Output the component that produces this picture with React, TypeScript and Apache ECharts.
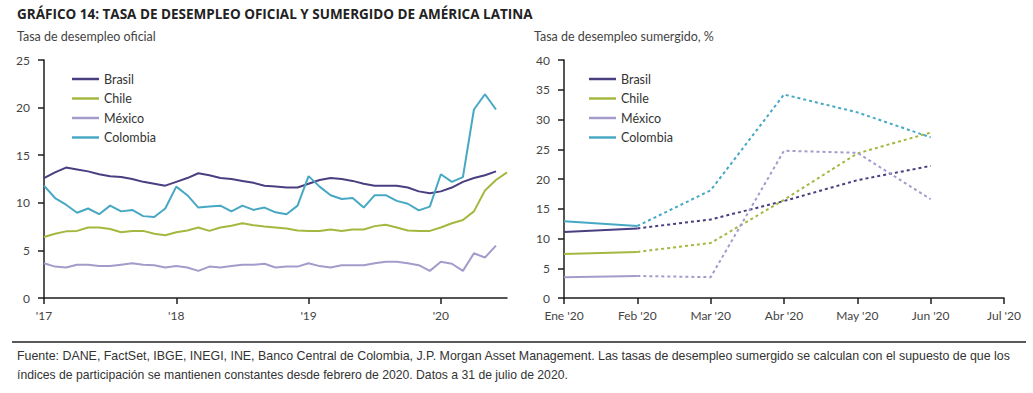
import React, { useEffect, useRef } from "react";
import * as echarts from "echarts";

const monthNames = ["Ene", "Feb", "Mar", "Abr", "May", "Jun", "Jul", "Ago", "Sep", "Oct", "Nov", "Dic"];
const years = ["17", "18", "19", "20"];
const leftCategories: string[] = [];
years.forEach((y) => monthNames.forEach((m) => leftCategories.push(m + " '" + y)));
leftCategories.splice(43); // Ene '17 .. Jul '20

const brasilOficial = [12.6, 13.2, 13.7, 13.5, 13.3, 13.0, 12.8, 12.7, 12.5, 12.2, 12.0, 11.8, 12.2, 12.6, 13.1, 12.9, 12.6, 12.5, 12.3, 12.1, 11.8, 11.7, 11.6, 11.6, 12.0, 12.4, 12.6, 12.5, 12.3, 12.0, 11.8, 11.8, 11.8, 11.6, 11.2, 11.0, 11.2, 11.6, 12.2, 12.6, 12.9, 13.3];
const chileOficial = [6.4, 6.75, 7.0, 7.05, 7.4, 7.4, 7.25, 6.9, 7.05, 7.05, 6.75, 6.6, 6.9, 7.1, 7.4, 7.05, 7.4, 7.6, 7.85, 7.65, 7.5, 7.4, 7.3, 7.1, 7.05, 7.05, 7.2, 7.05, 7.2, 7.2, 7.55, 7.7, 7.4, 7.1, 7.05, 7.05, 7.4, 7.85, 8.2, 9.1, 11.3, 12.4, 13.2];
const mexicoOficial = [3.65, 3.3, 3.2, 3.5, 3.5, 3.35, 3.35, 3.5, 3.65, 3.5, 3.45, 3.2, 3.35, 3.2, 2.85, 3.3, 3.2, 3.35, 3.5, 3.5, 3.6, 3.2, 3.3, 3.3, 3.65, 3.35, 3.2, 3.45, 3.45, 3.45, 3.65, 3.8, 3.8, 3.65, 3.45, 2.85, 3.8, 3.6, 2.85, 4.7, 4.25, 5.5];
const colombiaOficial = [11.8, 10.5, 9.8, 8.95, 9.4, 8.8, 9.7, 9.1, 9.25, 8.6, 8.5, 9.4, 11.7, 10.8, 9.5, 9.6, 9.7, 9.1, 9.7, 9.25, 9.5, 9.0, 8.8, 9.7, 12.8, 11.7, 10.8, 10.4, 10.5, 9.5, 10.8, 10.8, 10.2, 9.9, 9.2, 9.6, 13.0, 12.2, 12.7, 19.8, 21.4, 19.8];

const rightCategories = ["Ene '20", "Feb '20", "Mar '20", "Abr '20", "May '20", "Jun '20", "Jul '20"];
const brasilRight = [11.1, 11.7];
const chileRight = [7.4, 7.75];
const mexicoRight = [3.5, 3.7];
const colombiaRight = [12.9, 12.1];
const brasilSumergido = [null, 11.7, 13.2, 16.3, 19.8, 22.2];
const chileSumergido = [null, 7.75, 9.25, 16.5, 24.3, 27.8];
const mexicoSumergido = [null, 3.7, 3.5, 24.75, 24.4, 16.6];
const colombiaSumergido = [null, 12.1, 18.1, 34.2, 31.2, 27.0];

const names = ["Brasil", "Chile", "México", "Colombia"];
const colors = ["#4b3e80", "#a4b840", "#a39ccb", "#47a8c4"];
const leftYTicks = { min: 0, max: 25, interval: 5 };
const rightYTicks = { min: 0, max: 40, interval: 5 };

const titleText = "GRÁFICO 14: TASA DE DESEMPLEO OFICIAL Y SUMERGIDO DE AMÉRICA LATINA";
const leftSubtitle = "Tasa de desempleo oficial";
const rightSubtitle = "Tasa de desempleo sumergido, %";
const footnote1 = "Fuente: DANE, FactSet, IBGE, INEGI, INE, Banco Central de Colombia, J.P. Morgan Asset Management. Las tasas de desempleo sumergido se calculan con el supuesto de que los";
const footnote2 = "índices de participación se mantienen constantes desde febrero de 2020. Datos a 31 de julio de 2020.";

const FONT = "Lato";
const AXIS_COLOR = "#1e1e1e";
const LABEL_COLOR = "#444";

export default function App() {
  const ref = useRef<HTMLDivElement>(null);
  useEffect(() => {
    if (!ref.current) return;
    const chart = echarts.init(ref.current, null, { renderer: "svg" });
    const leftSets = [brasilOficial, chileOficial, mexicoOficial, colombiaOficial];
    const rightSolid = [brasilRight, chileRight, mexicoRight, colombiaRight];
    const rightDotted = [brasilSumergido, chileSumergido, mexicoSumergido, colombiaSumergido];

    const series: any[] = [];
    names.forEach((n, i) => {
      series.push({
        name: n, type: "line", xAxisIndex: 0, yAxisIndex: 0, data: leftSets[i],
        showSymbol: false, symbol: "none", lineStyle: { color: colors[i], width: 2 }, itemStyle: { color: colors[i] },
      });
    });
    names.forEach((n, i) => {
      series.push({
        name: n, type: "line", xAxisIndex: 1, yAxisIndex: 1, data: rightSolid[i],
        showSymbol: false, symbol: "none", lineStyle: { color: colors[i], width: 2 }, itemStyle: { color: colors[i] },
      });
      series.push({
        name: n, type: "line", xAxisIndex: 1, yAxisIndex: 1, data: rightDotted[i],
        showSymbol: false, symbol: "none", lineStyle: { color: colors[i], width: 2, type: [3, 3] }, itemStyle: { color: colors[i] },
      });
    });

    const legendBase = {
      orient: "vertical",
      icon: "rect",
      itemWidth: 27,
      itemHeight: 2.5,
      itemGap: 5.5,
      data: names,
      textStyle: { fontFamily: FONT, fontSize: 12.5, color: "#333", lineHeight: 14 },
      selectedMode: false,
    };

    const xAxisCommon = {
      axisLine: { lineStyle: { color: AXIS_COLOR, width: 1.5 } },
      axisTick: { length: 6, lineStyle: { color: AXIS_COLOR, width: 1.5 } },
      axisLabel: { fontFamily: FONT, fontSize: 12, color: LABEL_COLOR, margin: 11 },
      splitLine: { show: false },
    };
    const yAxisCommon = {
      type: "value",
      axisLine: { show: true, lineStyle: { color: AXIS_COLOR, width: 1.5 } },
      axisTick: { show: true, length: 6, lineStyle: { color: AXIS_COLOR, width: 1.5 } },
      axisLabel: { fontFamily: FONT, fontSize: 12, color: LABEL_COLOR, margin: 14 },
      splitLine: { show: false },
    };

    chart.setOption({
      animation: false,
      backgroundColor: "#ffffff",
      grid: [
        { left: 44, top: 60, width: 463, height: 238, containLabel: false },
        { left: 564, top: 60, width: 440, height: 238, containLabel: false },
      ],
      xAxis: [
        {
          ...xAxisCommon,
          type: "category", gridIndex: 0, data: leftCategories, boundaryGap: false,
          axisTick: { ...xAxisCommon.axisTick, interval: (idx: number) => idx % 12 === 0 },
          axisLabel: {
            ...xAxisCommon.axisLabel,
            interval: (idx: number) => idx % 12 === 0,
            formatter: (v: string) => "'" + v.split("'")[1],
          },
        },
        {
          ...xAxisCommon,
          type: "category", gridIndex: 1, data: rightCategories, boundaryGap: false,
        },
      ],
      yAxis: [
        { ...yAxisCommon, gridIndex: 0, ...leftYTicks },
        { ...yAxisCommon, gridIndex: 1, ...rightYTicks },
      ],
      legend: [
        { ...legendBase, left: 67, top: 67 },
        { ...legendBase, left: 584, top: 67 },
      ],
      graphic: [
        { type: "text", left: 17, top: 7, style: { text: titleText, font: "bold 13.5px 'Open Sans'", fill: "#222" } },
        { type: "text", left: 17, top: 30, style: { text: leftSubtitle, font: "12.5px Lato", fill: "#444" } },
        { type: "text", left: 534, top: 30, style: { text: rightSubtitle, font: "12.5px Lato", fill: "#444" } },
        { type: "line", shape: { x1: 12, y1: 342, x2: 1026, y2: 342 }, style: { stroke: "#222", lineWidth: 1.5 } },
        { type: "text", left: 17, top: 350, style: { text: footnote1, font: "12.4px 'Liberation Sans'", fill: "#333" } },
        { type: "text", left: 17, top: 369, style: { text: footnote2, font: "12.2px 'Liberation Sans'", fill: "#333" } },
      ],
      series,
    });
    return () => chart.dispose();
  }, []);
  return <div ref={ref} style={{ position: "fixed", left: 0, top: 0, width: 1033, height: 393 }} />;
}
